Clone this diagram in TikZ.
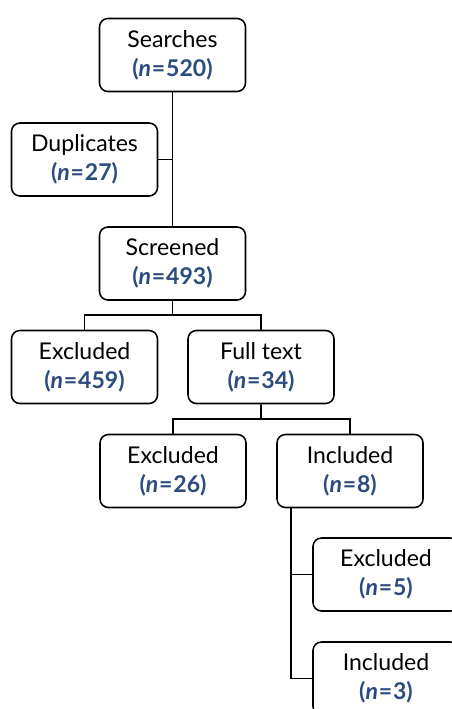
\documentclass[tikz,border=0pt]{standalone}
\usepackage{fontspec}
\setmainfont{Lato}
\usepackage{tikz}
\usetikzlibrary{calc}
\definecolor{nblue}{RGB}{44,76,128}
\newcommand{\nn}[1]{{\color{nblue}\bfseries(\textit{n}\hspace{0.6pt}=\hspace{0.6pt}#1)}}

\begin{document}
\begin{tikzpicture}[font=\fontsize{16.4}{20.5}\selectfont,
 bx/.style={draw,line width=1.1pt,rounded corners=6pt,fill=white,align=center,minimum width=3.65cm,minimum height=1.825cm,inner sep=2pt},
 ln/.style={line width=1.1pt}]
\useasboundingbox (0,0) rectangle (11.275,-17.725);
\node[bx] (se) at (4.3125,-1.375) {Searches\\\nn{520}};
\node[bx] (du) at (2.1125,-3.9875) {Duplicates\\\nn{27}};
\node[bx] (sc) at (4.3125,-6.5875) {Screened\\\nn{493}};
\node[bx] (ex1) at (2.1125,-9.175) {Excluded\\\nn{459}};
\node[bx] (ft) at (6.525,-9.175) {Full text\\\nn{34}};
\node[bx] (ex2) at (4.325,-11.775) {Excluded\\\nn{26}};
\node[bx] (in1) at (8.75,-11.775) {Included\\\nn{8}};
\node[bx] (ex3) at (9.65,-14.3625) {Excluded\\\nn{5}};
\node[bx] (in2) at (9.65,-16.9625) {Included\\\nn{3}};
% trunk
\draw[ln] (se.south)--(sc.north);
\draw[ln] (du.east)--(du.east -| se.south);
% splits
\coordinate (s1) at ($(sc.south)!0.5!(sc.south |- ex1.north)$);
\draw[ln] (sc.south)--(s1);
\draw[ln] (ex1.north)|-(s1)-|(ft.north);
\coordinate (s2) at ($(ft.south)!0.5!(ft.south |- ex2.north)$);
\draw[ln] (ft.south)--(s2);
\draw[ln] (ex2.north)|-(s2)-|(in1.north);
\coordinate (s3) at ([xshift=0.375cm]in1.south west);
\draw[ln] (s3)|-(in2.west);
\draw[ln] (ex3.west)-|(s3);
\end{tikzpicture}
\end{document}
